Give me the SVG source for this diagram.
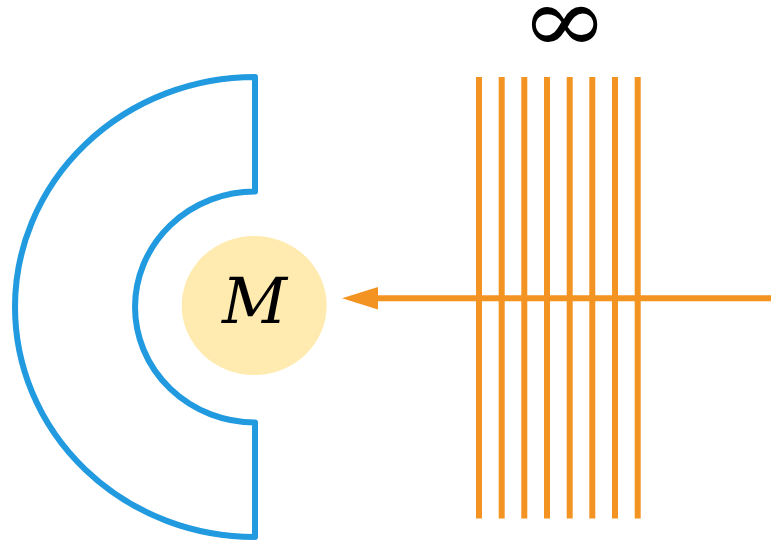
<svg xmlns="http://www.w3.org/2000/svg" width="771" height="542" viewBox="0 0 771 542">
<style>
.blue{fill:none;stroke:#219ADF;stroke-width:6;stroke-linejoin:round}
.wave{stroke:#F39322;stroke-width:6;fill:none}
.math{font-family:"DejaVu Serif","Liberation Serif",serif;fill:#000}
</style>
<rect width="771" height="542" fill="#fff"/>
<g id="shield">
<path class="blue" d="M255,77 A240,230 0 0 0 255,537 L255,422.5 A120,115.5 0 0 1 255,191.5 Z"/>
</g>
<g id="mass">
<ellipse cx="254.2" cy="305.5" rx="72.5" ry="69.5" fill="#FFEBAF"/>
<text class="math" x="254.5" y="322.5" font-family="Liberation Serif" font-style="italic" font-size="64" text-anchor="middle" textLength="65" lengthAdjust="spacingAndGlyphs">M</text>
</g>
<g id="infinity">
<text class="math" x="564.5" y="52" font-size="92" text-anchor="middle" textLength="88" lengthAdjust="spacingAndGlyphs">∞</text>
</g>
<g id="wavefronts">
<line class="wave" x1="479" y1="77" x2="479" y2="518.5"/>
<line class="wave" x1="501.7" y1="77" x2="501.7" y2="518.5"/>
<line class="wave" x1="524.3" y1="77" x2="524.3" y2="518.5"/>
<line class="wave" x1="547" y1="77" x2="547" y2="518.5"/>
<line class="wave" x1="569.7" y1="77" x2="569.7" y2="518.5"/>
<line class="wave" x1="592.3" y1="77" x2="592.3" y2="518.5"/>
<line class="wave" x1="615" y1="77" x2="615" y2="518.5"/>
<line class="wave" x1="637.7" y1="77" x2="637.7" y2="518.5"/>
</g>
<g id="connectors">
<line class="wave" x1="771" y1="298.3" x2="375" y2="298.3"/>
<polygon points="342,298.3 378,287 378,309.6" fill="#F39322"/>
</g>
</svg>
